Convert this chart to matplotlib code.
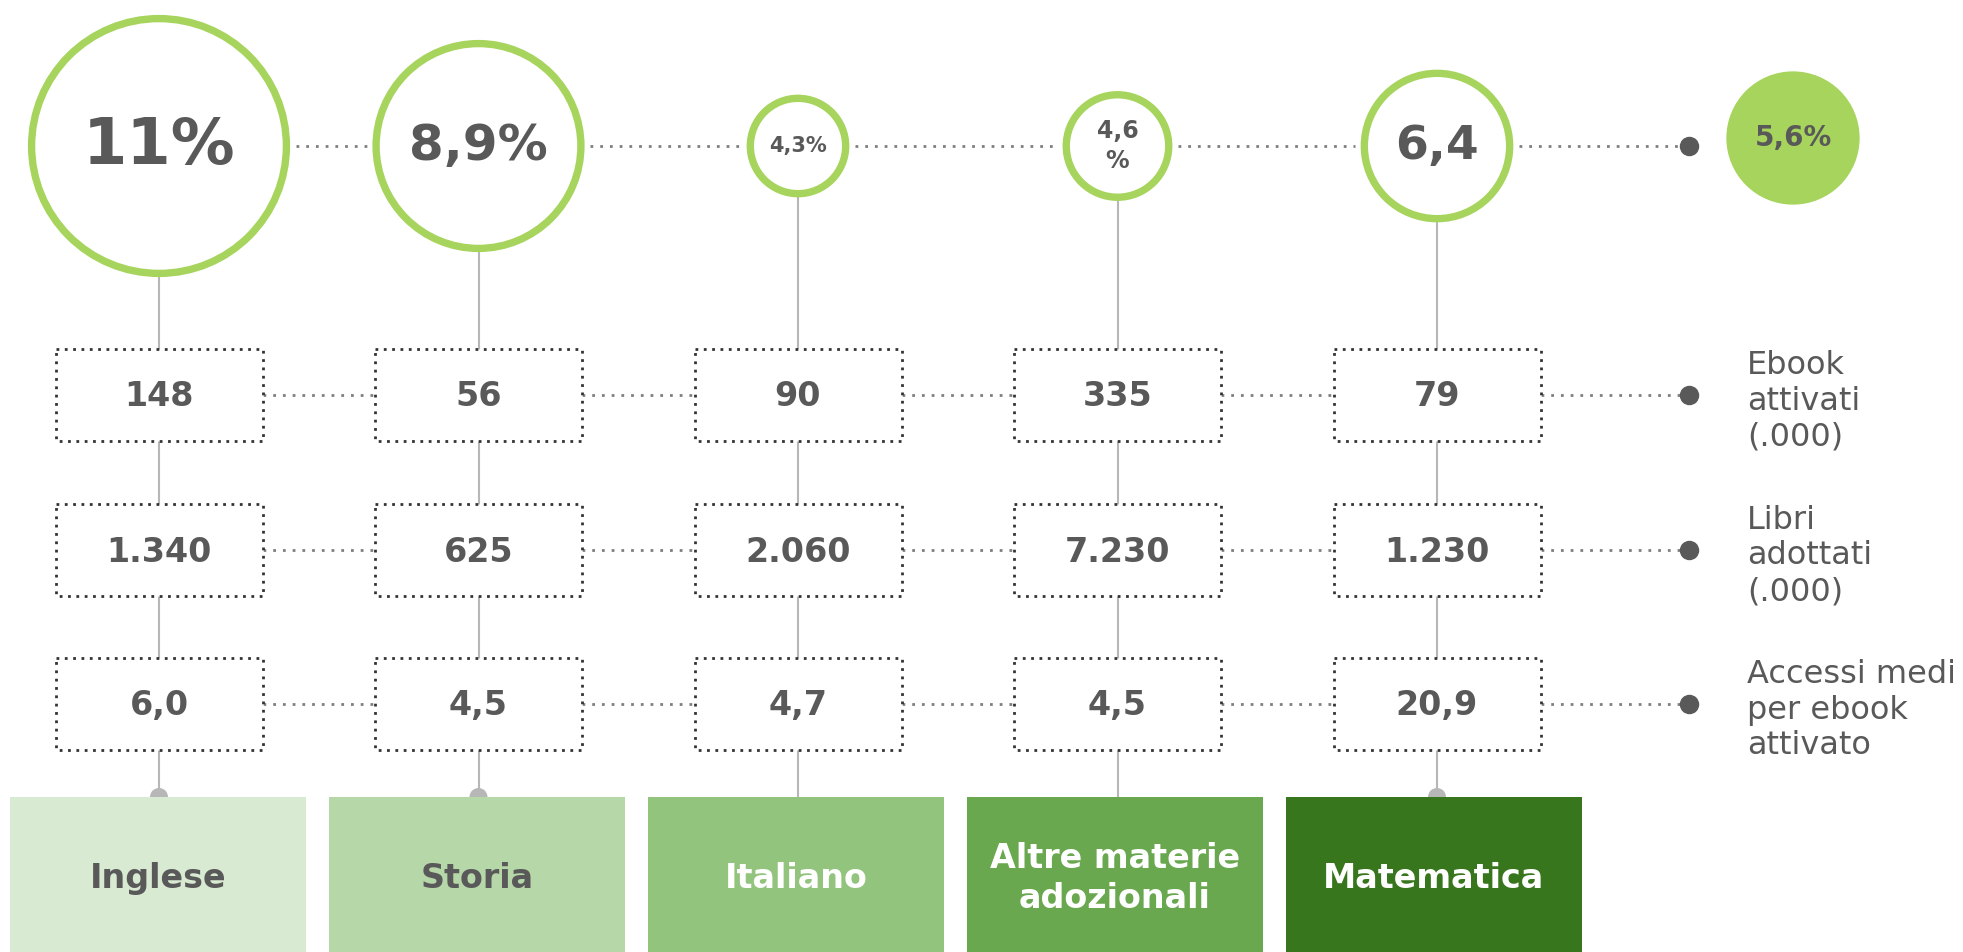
import matplotlib.pyplot as plt
from matplotlib.patches import Circle, Rectangle

# data
categories = ["Inglese", "Storia", "Italiano", "Altre materie\nadozionali", "Matematica"]
quota = [11, 8.9, 4.3, 4.6, 6.4]
quota_labels = ["11%", "8,9%", "4,3%", "4,6\n%", "6,4"]
media = 5.6
media_label = "5,6%"
ebook = [148, 56, 90, 335, 79]
libri = [1340, 625, 2060, 7230, 1230]
accessi = [6.0, 4.5, 4.7, 4.5, 20.9]
row_labels = ["Ebook\nattivati\n(.000)", "Libri\nadottati\n(.000)", "Accessi medi\nper ebook\nattivato"]

# style
cat_colors = ["#d9ead3", "#b6d7a8", "#93c47d", "#6aa84f", "#38761d"]
cat_text = ["#595959", "#595959", "white", "white", "white"]
quota_fs = [46, 36, 15, 17, 34]
green = "#a6d45c"
dark = "#595959"
line_grey = "#b7b7b7"
dot_ls = (0, (1, 2.5))


def fmt_int(v):
    return f"{v:,}".replace(",", ".")


def fmt_dec(v):
    return f"{v:.1f}".replace(".", ",")


W, H = 1963, 952
fig = plt.figure(figsize=(W / 100, H / 100), dpi=100)
ax = fig.add_axes([0, 0, 1, 1])
ax.set_xlim(0, W)
ax.set_ylim(H, 0)
ax.axis('off')

x0, step = 159, 319.5
cols = [x0 + step * i for i in range(len(categories))]
cy = 146
scale = 11.9          # px of radius per percentage point
row_y = [395, 550, 704]
bw, bh = 207, 92
dot_x = 1689
cat_top, cat_w = 797, 296

rows = [[fmt_int(v) for v in ebook],
        [fmt_int(v) for v in libri],
        [fmt_dec(v) for v in accessi]]

# circles
for i, (x, q) in enumerate(zip(cols, quota)):
    r = q * scale
    ax.add_patch(Circle((x, cy), r - 3.5, facecolor='white', edgecolor=green, lw=5.3, zorder=3))
    ax.text(x, cy, quota_labels[i], ha='center', va='center', fontsize=quota_fs[i],
            fontweight='bold', color=dark, zorder=4, linespacing=1.35)
    # vertical connector to first box
    ax.plot([x, x], [cy + r, row_y[0] - bh / 2], color=line_grey, lw=1.5, zorder=1)
    # horizontal dotted connector
    end = cols[i + 1] - quota[i + 1] * scale - 6 if i < len(cols) - 1 else dot_x
    ax.plot([x + r + 6, end], [cy, cy], color='#7f7f7f', lw=2, ls=dot_ls, zorder=1)

ax.plot(dot_x, cy, 'o', color=dark, ms=13, zorder=4)
rm = media * scale
ax.add_patch(Circle((1793, 138), rm, facecolor=green, edgecolor='none', zorder=3))
ax.text(1793, 138, media_label, ha='center', va='center', fontsize=20,
        fontweight='bold', color=dark, zorder=4)

# boxes rows
for j, (y, vals) in enumerate(zip(row_y, rows)):
    for i, x in enumerate(cols):
        ax.add_patch(Rectangle((x - bw / 2, y - bh / 2), bw, bh, facecolor='white',
                               edgecolor='#333333', lw=2, ls=(0, (1, 2)), zorder=3))
        ax.text(x, y + 2, vals[i], ha='center', va='center', fontsize=24,
                fontweight='bold', color=dark, zorder=4)
        end = cols[i + 1] - bw / 2 if i < len(cols) - 1 else dot_x
        ax.plot([x + bw / 2, end], [y, y], color='#7f7f7f', lw=2, ls=dot_ls, zorder=1)
        nxt = row_y[j + 1] - bh / 2 if j < len(row_y) - 1 else cat_top
        ax.plot([x, x], [y + bh / 2, nxt], color=line_grey, lw=1.5, zorder=1)
    ax.plot(dot_x, y, 'o', color=dark, ms=13, zorder=4)
    ax.text(1747, y + 6, row_labels[j], ha='left', va='center', fontsize=23,
            color=dark, linespacing=1.2)

# category boxes
for i, x in enumerate(cols):
    if i in (0, 1, 4):
        ax.add_patch(Circle((x, cat_top), 9, facecolor=line_grey, edgecolor='none', zorder=1))
    cx = x - 1 - 0.5 * i
    ax.add_patch(Rectangle((cx - cat_w / 2, cat_top), cat_w, H - cat_top,
                           facecolor=cat_colors[i], edgecolor='none', zorder=2))
    ax.text(cx, cat_top + (H - cat_top) / 2 + 4, categories[i], ha='center', va='center',
            fontsize=24, fontweight='bold', color=cat_text[i], zorder=4, linespacing=1.3)

fig.savefig("out.png", dpi=100)
